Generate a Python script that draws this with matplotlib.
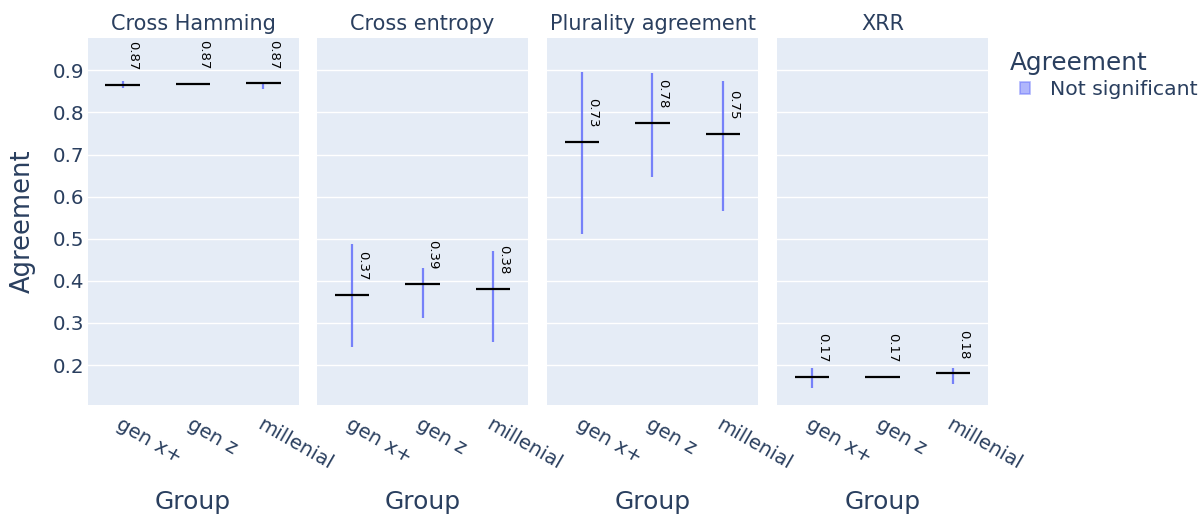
import matplotlib
matplotlib.use("Agg")
import matplotlib.pyplot as plt
from matplotlib.patches import Patch

metrics = ["Cross Hamming", "Cross entropy", "Plurality agreement", "XRR"]
groups = ["gen x+", "gen z", "millenial"]
means = {
    "Cross Hamming": [0.866, 0.867, 0.869],
    "Cross entropy": [0.366, 0.392, 0.381],
    "Plurality agreement": [0.731, 0.776, 0.750],
    "XRR": [0.171, 0.172, 0.180],
}
lows = {
    "Cross Hamming": [0.859, 0.866, 0.857],
    "Cross entropy": [0.243, 0.311, 0.255],
    "Plurality agreement": [0.511, 0.647, 0.566],
    "XRR": [0.146, 0.170, 0.154],
}
highs = {
    "Cross Hamming": [0.875, 0.868, 0.873],
    "Cross entropy": [0.487, 0.430, 0.471],
    "Plurality agreement": [0.897, 0.895, 0.875],
    "XRR": [0.194, 0.174, 0.192],
}
labels = {
    "Cross Hamming": ["0.87", "0.87", "0.87"],
    "Cross entropy": ["0.37", "0.39", "0.38"],
    "Plurality agreement": ["0.73", "0.78", "0.75"],
    "XRR": ["0.17", "0.17", "0.18"],
}
yticks = [0.2, 0.3, 0.4, 0.5, 0.6, 0.7, 0.8, 0.9]

BG = "#E5ECF6"
TXT = "#2a3f5f"
BLUE = "#636EFA"

plt.rcParams["font.family"] = ["DejaVu Sans"]

fig = plt.figure(figsize=(12, 5.14), dpi=100)
W, H = 1200, 514
lefts = [87.5, 317, 547, 777]
pw = 211
top, bottom = 38, 405

for i, m in enumerate(metrics):
    ax = fig.add_axes([lefts[i] / W, 1 - bottom / H, pw / W, (bottom - top) / H])
    ax.set_facecolor(BG)
    for s in ax.spines.values():
        s.set_visible(False)
    ax.set_xlim(-0.5, 2.5)
    ax.set_ylim(0.105, 0.977)
    ax.set_yticks(yticks)
    ax.grid(axis="y", color="white", linewidth=1)
    ax.set_axisbelow(True)
    ax.tick_params(axis="y", length=0, labelsize=14.3, colors=TXT, pad=2.5)
    ax.tick_params(axis="x", length=0, labelsize=14.3, colors=TXT, pad=7)
    ax.set_xticks(range(len(groups)))
    ax.set_xticklabels(groups, rotation=-30, ha="left", rotation_mode="anchor",
                       fontsize=14.3, color=TXT)
    if i > 0:
        ax.set_yticklabels([])
    else:
        ax.set_yticklabels([f"{v:.1f}" for v in yticks])
        ax.set_ylabel("Agreement", fontsize=18.5, color=TXT, labelpad=12)
    ax.set_xlabel("Group", fontsize=18, color=TXT, labelpad=12)
    ax.set_title(m, fontsize=15, color=TXT, pad=6)
    for j in range(len(groups)):
        ax.vlines(j, lows[m][j], highs[m][j], color=BLUE, alpha=0.85, linewidth=1.6, zorder=3)
        ax.hlines(means[m][j], j - 0.245, j + 0.245, color="black", linewidth=1.6, zorder=4)
        ax.annotate(labels[m][j], xy=(j, means[m][j]), xytext=(7.5, 21),
                    textcoords="offset points", rotation=-90, ha="center", va="center",
                    fontsize=9.5, color="black", zorder=5)

fig.text(1010 / W, 1 - 70 / H, "Agreement", fontsize=17.8, color=TXT,
         ha="left", va="baseline")
handle = Patch(facecolor=BLUE, edgecolor=BLUE, alpha=0.5, linewidth=1.2)
leg = fig.legend([handle], ["Not significant"],
                 loc="upper left", bbox_to_anchor=(1020 / W, 1 - 80 / H),
                 frameon=False, fontsize=14.7,
                 handlelength=0.5, handleheight=0.5, handletextpad=0.95,
                 borderaxespad=0, borderpad=0)
for t in leg.get_texts():
    t.set_color(TXT)

fig.savefig("out.png", dpi=100, facecolor="white")
